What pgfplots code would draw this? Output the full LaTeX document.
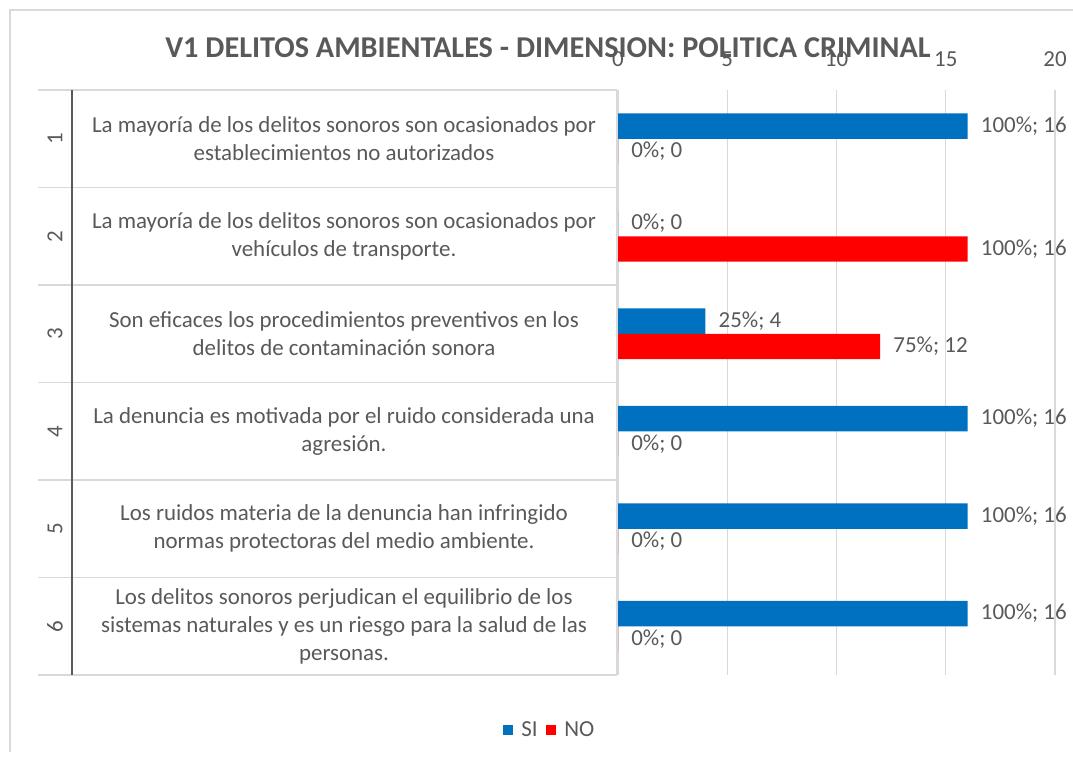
\documentclass[border=0pt]{standalone}
\usepackage{pgfplots}
\pgfplotsset{compat=1.18}
\usepackage{fontspec}
\setmainfont{Carlito}
\definecolor{siblue}{HTML}{0070C0}
\definecolor{nored}{HTML}{FF0000}
\definecolor{txt}{HTML}{595959}
\definecolor{gridc}{HTML}{D9D9D9}
\newcommand\bodyfont{\fontsize{17.2pt}{21pt}\selectfont}
\begin{document}
\begin{tikzpicture}
\begin{scope}[x=0.75pt,y=-0.75pt]
\path[use as bounding box] (0,0) rectangle (1073,758);
\draw[gridc, line width=1pt] (10,752)--(10,10)--(1073,10);
\node[txt, font=\fontsize{22.7pt}{26pt}\selectfont\bfseries] at (548,48) {V1 DELITOS AMBIENTALES - DIMENSION: POLITICA CRIMINAL};
\foreach \yy in {90,187.5,285,382.5,480,577.5,675} \draw[gridc, line width=1.2pt] (38,\yy)--(617,\yy);
\draw[gridc, line width=1pt] (617,90)--(617,675);
\draw[black!65, line width=1.3pt] (72,90)--(72,675);
\foreach \n [count=\i] in {1,...,6} \node[txt, rotate=90, font=\bodyfont] at (55,{90+97.5*(\i-0.5)}) {\n};
\node[txt, font=\bodyfont, align=center] at (344,138.75) {La mayoría de los delitos sonoros son ocasionados por\\establecimientos no autorizados};
\node[txt, font=\bodyfont, align=center] at (344,236.25) {La mayoría de los delitos sonoros son ocasionados por\\vehículos de transporte.};
\node[txt, font=\bodyfont, align=center] at (344,333.75) {Son eficaces los procedimientos preventivos en los\\delitos de contaminación sonora};
\node[txt, font=\bodyfont, align=center] at (344,431.25) {La denuncia es motivada por el ruido considerada una\\agresión.};
\node[txt, font=\bodyfont, align=center] at (344,528.75) {Los ruidos materia de la denuncia han infringido\\normas protectoras del medio ambiente.};
\node[txt, font=\bodyfont, align=center] at (344,626.25) {Los delitos sonoros perjudican el equilibrio de los\\sistemas naturales y es un riesgo para la salud de las\\personas.};
\end{scope}
\begin{axis}[
  at={(627.375pt,-286.875pt)}, anchor=center,
  scale only axis, width=327.75pt, height=438.75pt,
  xbar=0pt, bar width=19.1pt,
  xmin=0, xmax=20, ymin=0.5, ymax=6.5, y dir=reverse,
  ytick=\empty, xtick={0,5,10,15,20},
  xticklabel pos=right,
  xmajorgrids, grid style={gridc, line width=1pt},
  axis line style={draw=none}, major tick style={draw=none},
  tick label style={txt, font=\bodyfont},
  xticklabel style={yshift=14pt},
  /pgf/number format/assume math mode=true,
  clip=false,
  point meta=x,
  nodes near coords={\pgfkeys{/pgf/fpu=true}\pgfmathparse{\pgfplotspointmeta*100/16}\pgfmathprintnumber[fixed,precision=0,assume math mode=true]{\pgfmathresult}\%; \pgfmathprintnumber[fixed,precision=0,assume math mode=true]{\pgfplotspointmeta}},
  nodes near coords style={txt, font=\bodyfont, anchor=west, inner sep=0pt, xshift=9.75pt},
  legend columns=2,
  legend style={at={(-0.156,-0.094)}, anchor=center, draw=none, fill=none, font=\bodyfont, text=txt, column sep=4pt},
  legend image code/.code={\fill[#1] (0pt,-4pt) rectangle (8pt,4pt);},
]
\addplot[fill=siblue, draw=none, bar shift=9.55pt] coordinates {
 (16,1) (0,2) (4,3) (16,4) (16,5) (16,6)
};
\addplot[fill=nored, draw=none, bar shift=-9.55pt] coordinates {
 (0,1) (16,2) (12,3) (0,4) (0,5) (0,6)
};
\legend{SI,NO}
\end{axis}
\end{tikzpicture}
\end{document}
